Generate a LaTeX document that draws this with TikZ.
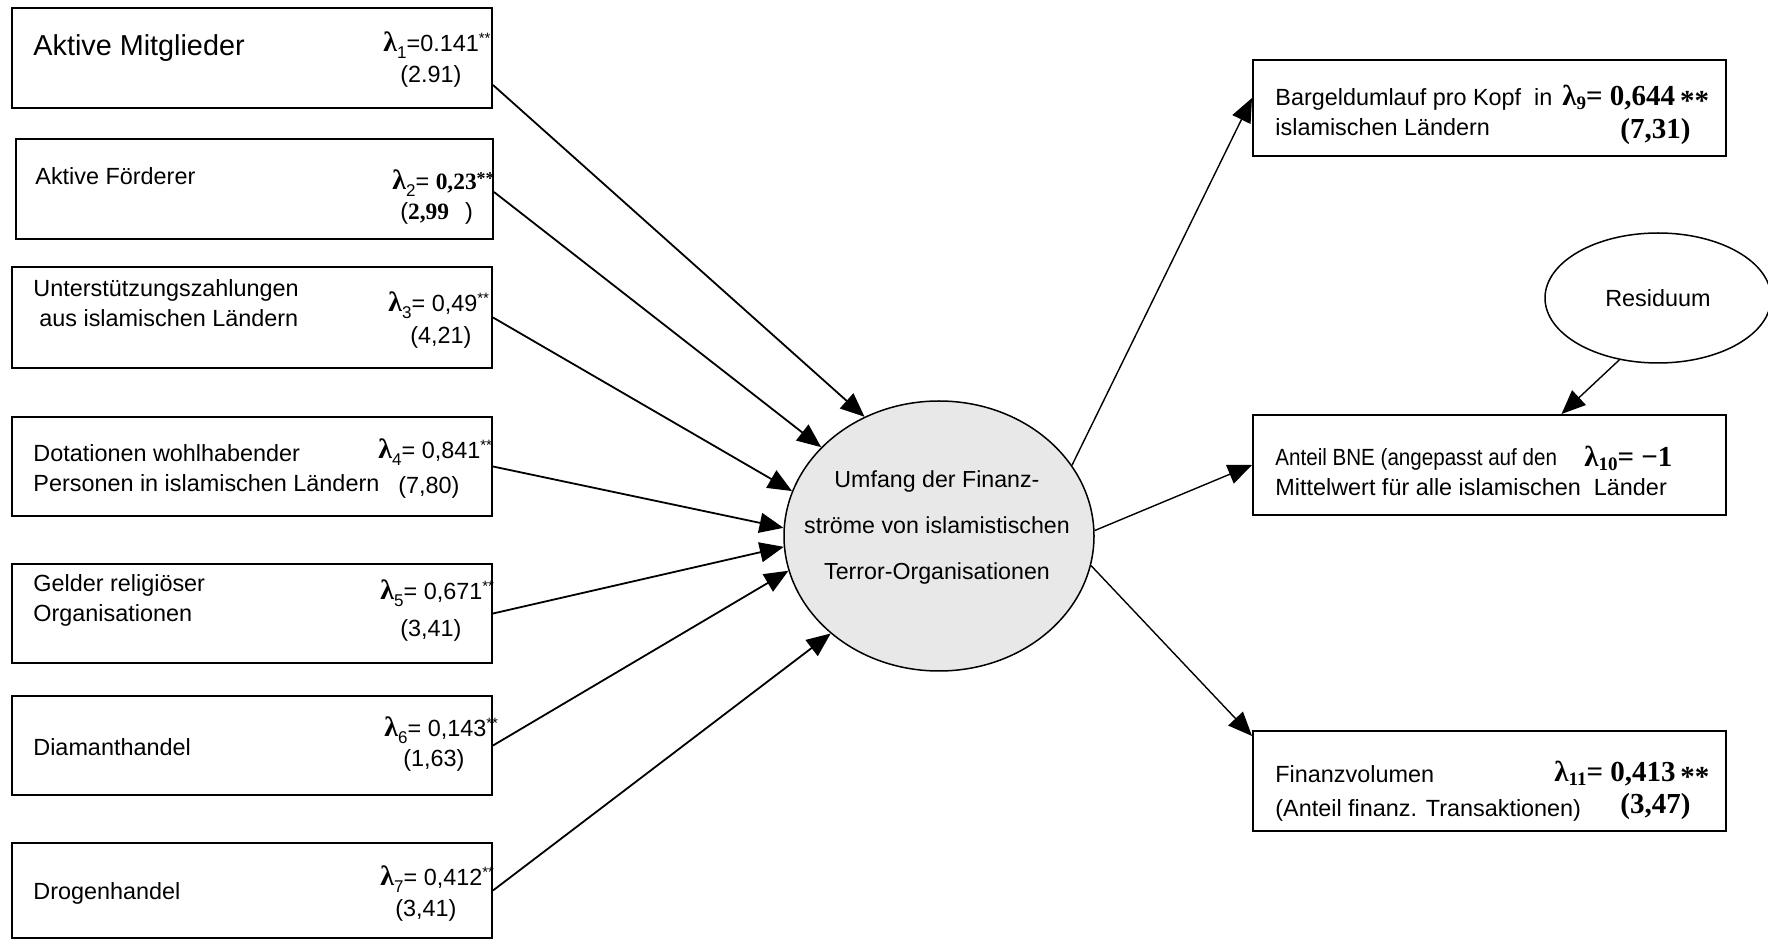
\documentclass[tikz,border=0pt]{standalone}
\usepackage{fontspec}
\setmainfont{Liberation Sans}
\newfontfamily\myserif{Liberation Serif}
\usetikzlibrary{arrows.meta,shapes.geometric}
\definecolor{ellfill}{RGB}{232,232,232}
\newcommand{\lamL}[1]{{\myserif\bfseries\fontsize{14}{14}\selectfont λ}\raisebox{-3.5pt}{\fontsize{8.5}{9}\selectfont #1}}
\newcommand{\starsL}{\raisebox{4pt}{\fontsize{7.5}{8}\selectfont **}}
\newcommand{\starsB}{\raisebox{2.5pt}{\myserif\bfseries\fontsize{9}{9}\selectfont **}}
\newcommand{\starsR}{\raisebox{-2.5pt}{\myserif\bfseries\fontsize{14.5}{14.5}\selectfont **}}
\newcommand{\lamR}[1]{λ\raisebox{-2pt}{\fontsize{9.5}{9.5}\selectfont #1}}
\begin{document}
\begin{tikzpicture}[x=0.5pt,y=-0.5pt,
  box/.style={draw, line width=1pt, rectangle, inner sep=0pt},
  txt/.style={anchor=west, inner sep=0pt, font=\fontsize{11.7}{15}\selectfont, align=left},
  lam/.style={anchor=west, inner sep=0pt, font=\fontsize{11.7}{14}\selectfont},
  lamr/.style={anchor=west, inner sep=0pt, font=\myserif\bfseries\fontsize{14.5}{15}\selectfont},
  arr/.style={line width=0.9pt, -{Triangle[length=12pt,width=10pt]}},
  arrR/.style={line width=0.7pt, -{Triangle[length=12pt,width=10pt]}},
]
\useasboundingbox[fill=white] (0,0) rectangle (1768,940);

% left boxes
\node[box, minimum width=240pt, minimum height=50pt] (L1) at (252,58) {};
\node[box, minimum width=238.5pt, minimum height=50pt] (L2) at (254.5,189) {};
\node[box, minimum width=240pt, minimum height=50.5pt] (L3) at (252,317.5) {};
\node[box, minimum width=240pt, minimum height=49.5pt] (L4) at (252,466.5) {};
\node[box, minimum width=240pt, minimum height=49.5pt] (L5) at (252,613.5) {};
\node[box, minimum width=240pt, minimum height=49.5pt] (L6) at (252,745.5) {};
\node[box, minimum width=240pt, minimum height=47.5pt] (L7) at (252,890.5) {};

% left texts
\node[txt, font=\fontsize{14.4}{16}\selectfont] (t1) at (33,48) {Aktive Mitglieder};
\node[txt] (t2) at (35,176) {Aktive Förderer};
\node[txt] (t3) at (33,303) {Unterstützungszahlungen\\\hspace*{3pt}aus islamischen Ländern};
\node[txt] (t4) at (33,468) {Dotationen wohlhabender\\Personen in islamischen Ländern};
\node[txt] (t5) at (33,600) {Gelder religiöser\\Organisationen};
\node[txt] (t6) at (33,747) {Diamanthandel};
\node[txt] (t7) at (33,893) {Drogenhandel};

% left lambda labels
\node[lam] (l1a) at (383,45) {\lamL{1}=0.141\starsL};
\node[lam] (l1b) at (400,76) {(2.91)};
\node[lam] (l2a) at (392,183) {\lamL{2}= {\myserif\bfseries 0,23}\starsB};
\node[lam] (l2b) at (400,213) {({\myserif\bfseries 2,99}\hspace{8pt})};
\node[lam] (l3a) at (388,305) {\lamL{3}= 0,49\starsL};
\node[lam] (l3b) at (410,337) {(4,21)};
\node[lam] (l4a) at (378,452) {\lamL{4}= 0,841\starsL};
\node[lam] (l4b) at (398,487) {(7,80)};
\node[lam] (l5a) at (380,593) {\lamL{5}= 0,671\starsL};
\node[lam] (l5b) at (400,630) {(3,41)};
\node[lam] (l6a) at (384,730) {\lamL{6}= 0,143\starsL};
\node[lam] (l6b) at (403,760) {(1,63)};
\node[lam] (l7a) at (380,879) {\lamL{7}= 0,412\starsL};
\node[lam] (l7b) at (395,910) {(3,41)};

% central ellipse
\node[ellipse, draw, line width=0.75pt, fill=ellfill, minimum width=155pt, minimum height=135pt, inner sep=0pt] (C) at (939,536) {};
\node[align=center, inner sep=0pt, font=\fontsize{11.6}{23}\selectfont] (Ct) at (937,528)
  {Umfang der Finanz-\\ströme von islamistischen\\Terror-Organisationen};

% right boxes
\node[box, minimum width=236.5pt, minimum height=48pt] (R9) at (1489.5,108) {};
\node[box, minimum width=236.5pt, minimum height=50pt] (R10) at (1489.5,465) {};
\node[box, minimum width=236.5pt, minimum height=50pt] (R11) at (1489.5,781) {};

\node[txt] (t9) at (1275,112.5) {Bargeldumlauf pro Kopf~~in\\islamischen Ländern};
\node[txt] (t10) at (1275,472) {\scalebox{0.88}[1]{Anteil BNE (angepasst auf den}\\Mittelwert für alle islamischen~~Länder};
\node[txt] (t11a) at (1275,774) {Finanzvolumen};
\node[txt] (t11b) at (1275,810) {(Anteil finanz. Transaktionen)};

\node[lamr] (l9a) at (1562,98) {\lamR{9}= 0,644\,\starsR};
\node[lamr] (l9b) at (1620,132) {(7,31)};
\node[lamr] (l10a) at (1584,458) {\lamR{10}= −1};
\node[lamr] (l11a) at (1554,774) {\lamR{11}= 0,413\,\starsR};
\node[lamr] (l11b) at (1620,807) {(3,47)};

% residuum
\node[ellipse, draw, line width=0.75pt, minimum width=113pt, minimum height=65pt, inner sep=0pt,
  font=\fontsize{11.7}{14}\selectfont] (Res) at (1658,298) {Residuum};

% arrows left -> center
\draw[arr] ([yshift=-13.5pt]L1.east) -- (C.122.3);
\draw[arr] ([yshift=-1.5pt]L2.east) -- (C.143.9);
\draw[arr] (L3.east) -- (C.163.4);
\draw[arr] (L4.east) -- (C.177.8);
\draw[arr] (L5.east) -- (C.184.3);
\draw[arr] (L6.east) -- (C.193.4);
\draw[arr] (L7.east) -- (C.222.6);

% arrows center -> right
\draw[arrR] (C.28.8) -- ([yshift=5pt]R9.west);
\draw[arrR] (C.2.2) -- (R10.west);
\draw[arrR] (C.-11) -- ([yshift=-3pt]R11.north west);
\draw[arrR] (Res.238) -- ([xshift=36pt]R10.north);
\end{tikzpicture}
\end{document}
